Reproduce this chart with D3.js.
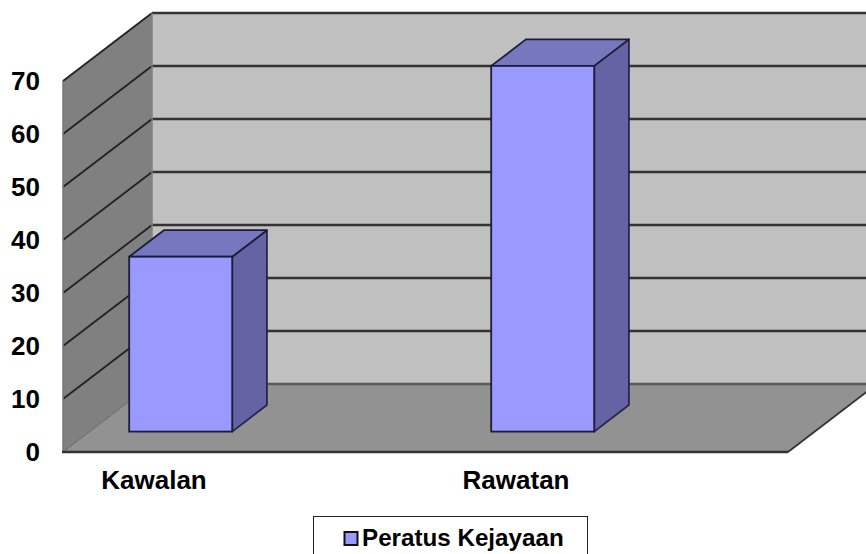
<!DOCTYPE html>
<html>
<head>
<meta charset="utf-8">
<script src="https://d3js.org/d3.v7.min.js"></script>
<style>
  body { margin: 0; background: #fff; }
  text { font-family: "Liberation Sans", Arial, sans-serif; font-weight: bold; fill: #000; }
</style>
</head>
<body>
<div id="chart"></div>
<script>
// data
var categories = ["Kawalan", "Rawatan"];
var kejayaan = [33, 69];
var yTicks = [0, 10, 20, 30, 40, 50, 60, 70];
var seriesName = "Peratus Kejayaan";

var width = 866, height = 554;

var svg = d3.select("#chart").append("svg")
    .attr("width", width)
    .attr("height", height)
    .style("display", "block");

// front plane scales
var x = d3.scaleBand().domain(categories).range([-27, 697]);
var y = d3.scaleLinear().domain([0, 70]).range([452, 81]);

// fake 3d: t = 0 is the front of the floor, t = 1 the back wall
var depthX = 89, depthY = 68;
var barFront = 0.3, barBack = 0.69, barWidth = 103;
var left = 63, right = 788;

function px(xv, t) { return xv + depthX * t; }
function py(v, t) { return y(v) - depthY * t; }
function pts(a) { return a.map(function(d) { return d.join(","); }).join(" "); }

// back wall
svg.append("polygon")
    .attr("points", pts([[px(left,1),py(70,1)], [width+20,py(70,1)], [width+20,py(0,1)], [px(left,1),py(0,1)]]))
    .attr("fill", "#c0c0c0");

// side wall
svg.append("polygon")
    .attr("points", pts([[left,py(70,0)], [px(left,1),py(70,1)], [px(left,1),py(0,1)], [left,py(0,0)]]))
    .attr("fill", "#808080");

// floor
svg.append("polygon")
    .attr("points", pts([[left,py(0,0)], [right,py(0,0)], [px(right,1),py(0,1)], [px(left,1),py(0,1)]]))
    .attr("fill", "#929292");

// gridlines on the back wall and the side wall
svg.append("g").selectAll("line")
    .data(yTicks)
    .enter().append("line")
    .attr("x1", px(left, 1))
    .attr("x2", width)
    .attr("y1", function(d) { return py(d, 1); })
    .attr("y2", function(d) { return py(d, 1); })
    .attr("stroke", function(d) { return d == 0 ? "#5a5a5a" : "#333"; })
    .attr("stroke-width", 2.5);

svg.append("g").selectAll("line")
    .data(yTicks)
    .enter().append("line")
    .attr("x1", left)
    .attr("x2", px(left, 1))
    .attr("y1", function(d) { return py(d, 0); })
    .attr("y2", function(d) { return py(d, 1); })
    .attr("stroke", function(d) { return d == 0 ? "#666" : "#222"; })
    .attr("stroke-width", function(d) { return d == 0 ? 1 : 1.8; });

svg.append("line")
    .attr("x1", left).attr("x2", left)
    .attr("y1", py(70, 0)).attr("y2", py(0, 0))
    .attr("stroke", "#777").attr("stroke-width", 1.5);

svg.append("line")
    .attr("x1", px(left, 1)).attr("x2", px(left, 1))
    .attr("y1", py(70, 1)).attr("y2", py(0, 1))
    .attr("stroke", "#808080").attr("stroke-width", 1.5);

// floor front edge and right edge
svg.append("line")
    .attr("x1", left - 1).attr("x2", right)
    .attr("y1", py(0, 0)).attr("y2", py(0, 0))
    .attr("stroke", "#333").attr("stroke-width", 2.5);

svg.append("line")
    .attr("x1", right).attr("x2", px(right, 1))
    .attr("y1", py(0, 0)).attr("y2", py(0, 1))
    .attr("stroke", "#333").attr("stroke-width", 1.8);

// bars
var bars = svg.append("g").selectAll("g")
    .data(categories)
    .enter().append("g");

function barL(d) { return x(d) + x.bandwidth() / 2 - barWidth / 2; }
function val(i) { return kejayaan[i]; }

// side face
bars.append("polygon")
    .attr("points", function(d, i) {
        var r = barL(d) + barWidth;
        return pts([[px(r,barFront),py(val(i),barFront)], [px(r,barBack),py(val(i),barBack)],
                    [px(r,barBack),py(0,barBack)], [px(r,barFront),py(0,barFront)]]);
    })
    .attr("fill", "#6464a4")
    .attr("stroke", "#26264a")
    .attr("stroke-width", 1.8)
    .attr("stroke-linejoin", "round");

// top face
bars.append("polygon")
    .attr("points", function(d, i) {
        var l = barL(d), r = l + barWidth;
        return pts([[px(l,barFront),py(val(i),barFront)], [px(r,barFront),py(val(i),barFront)],
                    [px(r,barBack),py(val(i),barBack)], [px(l,barBack),py(val(i),barBack)]]);
    })
    .attr("fill", "#7777bf")
    .attr("stroke", "#1c1c38")
    .attr("stroke-width", 1.8)
    .attr("stroke-linejoin", "round");

// front face
bars.append("rect")
    .attr("x", function(d) { return px(barL(d), barFront); })
    .attr("y", function(d, i) { return py(val(i), barFront); })
    .attr("width", barWidth)
    .attr("height", function(d, i) { return y(0) - y(val(i)); })
    .attr("fill", "#9999ff")
    .attr("stroke", "#1c1c38")
    .attr("stroke-width", 1.8);

// axes, labels only
var yAxis = svg.append("g")
    .attr("transform", "translate(43,0)")
    .call(d3.axisLeft(y).tickValues(yTicks).tickSize(0).tickPadding(3));
yAxis.select(".domain").remove();
yAxis.selectAll("text").style("font-size", "26px");
yAxis.attr("font-family", null);

var xAxis = svg.append("g")
    .attr("transform", "translate(0,471)")
    .call(d3.axisBottom(x).tickSize(0).tickPadding(0));
xAxis.select(".domain").remove();
xAxis.selectAll("text").style("font-size", "26px");
xAxis.attr("font-family", null);

// legend
var legend = svg.append("g").attr("class", "legend");
legend.append("rect")
    .attr("x", 313.5).attr("y", 516.5)
    .attr("width", 274).attr("height", 50)
    .attr("fill", "#fff").attr("stroke", "#222").attr("stroke-width", 1);
legend.append("rect")
    .attr("x", 344.5).attr("y", 532)
    .attr("width", 13).attr("height", 13)
    .attr("fill", "#9999ff").attr("stroke", "#111").attr("stroke-width", 2);
legend.append("text")
    .attr("x", 362).attr("y", 546)
    .style("font-size", "24.2px")
    .text(seriesName);
</script>
</body>
</html>
